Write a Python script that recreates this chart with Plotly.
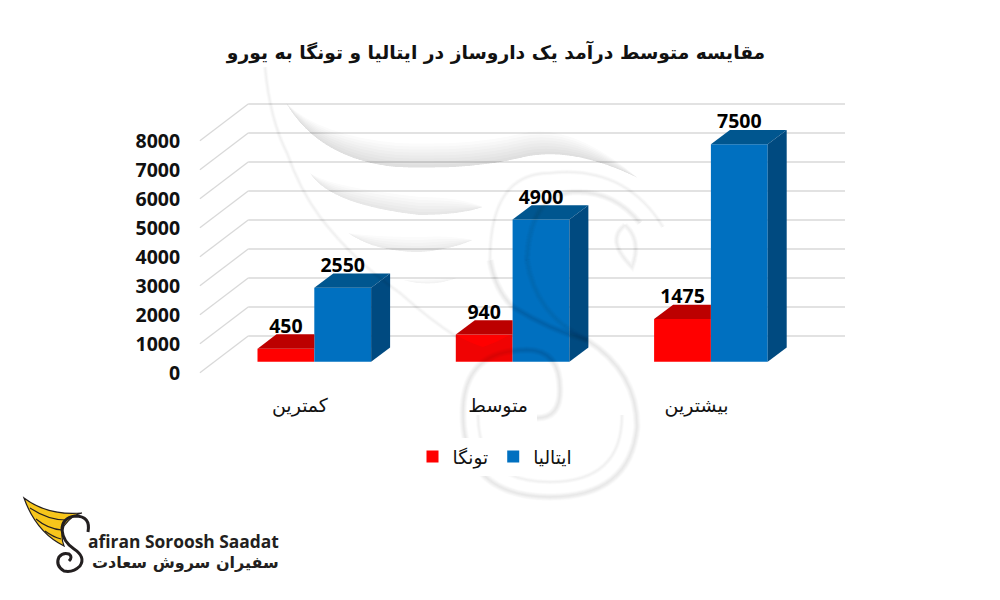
import plotly.graph_objects as go

categories = ["کمترین", "متوسط", "بیشترین"]
tonga = [450, 940, 1475]
italy = [2550, 4900, 7500]
y_ticks = [0, 1000, 2000, 3000, 4000, 5000, 6000, 7000, 8000]
title = "مقایسه متوسط درآمد یک داروساز در ایتالیا و تونگا به یورو"

# pixel scale of the fake 3d box
PX_X = 198.3
PX_Y = 0.029
X0 = 299.9
Y0 = 372.7
BAR_W = 56.8 / PX_X
BAR_SHIFT = (14.4 / PX_X, 11 / PX_Y)
BAR_DEPTH = (19 / PX_X, 14.3 / PX_Y)
WALL = (48.3 / PX_X, 36.7 / PX_Y)
GRID_END = (845 - X0) / PX_X

RED, RED_TOP = "#FF0000", "#BC0000"
BLUE, BLUE_TOP, BLUE_SIDE = "#0070C0", "#00568F", "#004A80"
GRID = "#D9D9D9"
FONT = "DejaVu Sans"
NUM_FONT = "Open Sans"


def pos(px, py):
    return px / 1000, 1 - py / 600


def path(points):
    # points are pixels, first is M, then pairs make Q segments
    x, y = pos(*points[0])
    out = f"M{x:.4f},{y:.4f}"
    rest = points[1:]
    for i in range(0, len(rest), 2):
        a = pos(*rest[i])
        b = pos(*rest[i + 1])
        out += f" Q{a[0]:.4f},{a[1]:.4f} {b[0]:.4f},{b[1]:.4f}"
    return out


fig = go.Figure()

xs = list(range(len(categories)))
for i, (name, values, colour) in enumerate([("تونگا", tonga, RED), ("ایتالیا", italy, BLUE)]):
    fig.add_bar(
        x=[v + BAR_SHIFT[0] for v in xs],
        y=values,
        base=BAR_SHIFT[1],
        name=name,
        marker=dict(color=colour, line_width=0),
    )

# top and side faces, worked out from the values
for k in xs:
    cx = k + BAR_SHIFT[0]
    for value, x0, x1, top, side in [
        (tonga[k], cx - BAR_W, cx, RED_TOP, None),
        (italy[k], cx, cx + BAR_W, BLUE_TOP, BLUE_SIDE),
    ]:
        yt = value + BAR_SHIFT[1]
        dx, dy = BAR_DEPTH
        # the red top stops where the blue bar starts
        xr = x1 + dx if side else x1
        xf = x1
        fig.add_scatter(
            x=[x0, x0 + dx, xr, xf, x0], y=[yt, yt + dy, yt + dy, yt, yt],
            fill="toself", fillcolor=top, mode="none", showlegend=False, hoverinfo="skip",
        )
        if side:
            yb = BAR_SHIFT[1]
            fig.add_scatter(
                x=[x1, x1 + dx, x1 + dx, x1, x1], y=[yb, yb + dy, yt + dy, yt, yb],
                fill="toself", fillcolor=side, mode="none", showlegend=False, hoverinfo="skip",
            )

# value labels sit above the middle of each front face
for values, off in [(tonga, -BAR_W / 2), (italy, BAR_W / 2)]:
    fig.add_scatter(
        x=[k + BAR_SHIFT[0] + off for k in xs],
        y=[v + BAR_SHIFT[1] + BAR_DEPTH[1] + 6.5 / PX_Y for v in values],
        text=[str(v) for v in values],
        mode="text",
        textposition="middle center",
        textfont=dict(family=NUM_FONT, size=19.5, color="#000000", weight=700),
        showlegend=False,
        hoverinfo="skip",
    )

shapes = []
# wall grid and floor diagonals go under the bars
for t in y_ticks:
    shapes.append(dict(type="line", xref="x", yref="y", layer="below",
                       x0=-0.5043, y0=t, x1=-0.5043 + WALL[0], y1=t + WALL[1],
                       line=dict(color=GRID, width=1.3)))
    shapes.append(dict(type="line", xref="x", yref="y", layer="below",
                       x0=-0.5043 + WALL[0], y0=t + WALL[1], x1=GRID_END, y1=t + WALL[1],
                       line=dict(color=GRID, width=1.6)))


def soft(points, width=10, alpha=0.012):
    # watermark rim: stacked wide strokes to fake the drop shadow
    for w in range(width, 0, -1):
        shapes.append(dict(type="path", xref="paper", yref="paper", layer="above",
                           path=path(points),
                           line=dict(color=f"rgba(40,40,40,{alpha})", width=w)))


def crescent(points, depth=24, alpha=0.018):
    # watermark feather: sharp lower edge, shade fading upwards, tapered at both ends
    for d in range(3, depth + 1, 3):
        back = [(x, y - d) for x, y in points[1:-1]]
        back.reverse()
        shapes.append(dict(type="path", xref="paper", yref="paper", layer="above",
                           path=path(points) + " " + path([points[-1]] + back + [points[0]]).split(" ", 1)[1].replace("M", "") + " Z",
                           fillcolor=f"rgba(40,40,40,{alpha})", line_width=0))


crescent([(286, 103), (320, 160), (397, 167), (470, 170), (520, 158), (570, 145), (638, 178)], 24)
crescent([(310, 173), (330, 205), (420, 215), (460, 215), (483, 207)], 20)
crescent([(348, 233), (375, 252), (420, 252), (450, 250), (473, 240)], 16)
crescent([(403, 280), (430, 288), (457, 278)], 10)
soft([(265, 67), (270, 120), (287, 153), (300, 190), (320, 217), (355, 262), (400, 293), (430, 320), (457, 337)], 5, 0.01)
# neck and outer ring of the swan
soft([(490, 260), (490, 173), (550, 173), (625, 165), (663, 227)], 5, 0.01)
soft([(527, 260), (530, 192), (577, 192), (615, 192), (640, 223)], 7, 0.014)
soft([(527, 260), (535, 315), (587, 340)], 7, 0.014)
soft([(490, 260), (495, 290), (513, 307), (550, 330), (587, 340), (637, 372), (637, 427),
      (630, 497), (550, 497), (463, 497), (463, 413), (463, 350), (527, 350), (560, 350), (560, 390),
      (560, 418), (537, 418)], 8, 0.012)
soft([(622, 415), (622, 482), (550, 482), (478, 482), (478, 415)], 5, 0.01)
soft([(625, 225), (605, 240), (632, 267), (642, 240), (625, 225)], 6, 0.016)
# wing tip crossing the red bar
shapes.append(dict(type="path", xref="paper", yref="paper", layer="above",
                   path=path([(456, 335), (470, 343), (483, 347), (498, 342), (513, 333), (513, 348), (513, 361),
                              (485, 361), (456, 361), (456, 348), (456, 335)]) + " Z",
                   fillcolor="rgba(40,40,40,0.07)", line_width=0))

# logo, bottom left
shapes.append(dict(type="path", xref="paper", yref="paper", layer="above",
                   path=path([(24, 498), (48, 516), (82, 513), (72, 515), (64, 526), (60, 536), (64, 546),
                              (36, 532), (24, 498)]) + " Z",
                   fillcolor="#F7C61B", line=dict(color="#231F20", width=1.2)))
for feather in ([(30, 508), (48, 520), (66, 520)], [(36, 519), (48, 529), (62, 530)], [(45, 531), (53, 537), (61, 539)]):
    shapes.append(dict(type="path", xref="paper", yref="paper", layer="above",
                       path=path(feather), line=dict(color="#231F20", width=1.2)))
shapes.append(dict(type="path", xref="paper", yref="paper", layer="above",
                   path=path([(88, 532), (91, 516), (75, 516), (62, 518), (62, 530), (63, 542), (74, 549),
                              (86, 557), (80, 566), (73, 573), (64, 571), (55, 566), (59, 557), (63, 552), (69, 554),
                              (73, 557), (69, 561)]),
                   line=dict(color="#231F20", width=3)))

fig.update_layout(
    width=1000,
    height=600,
    margin=dict(l=0, r=0, t=0, b=0),
    paper_bgcolor="white",
    plot_bgcolor="rgba(0,0,0,0)",
    barmode="group",
    bargap=1 - 2 * BAR_W,
    bargroupgap=0,
    shapes=shapes,
    title=dict(text=title, x=0.496, xanchor="center", y=1 - 52 / 600, yanchor="middle",
               font=dict(family=FONT, size=18.7, color="#111111", weight=700)),
    legend=dict(orientation="h", x=0.495, xanchor="center", y=1 - 457 / 600, yanchor="middle",
                font=dict(family=FONT, size=18.5, color="#111111")),
    xaxis=dict(
        range=[-X0 / PX_X, (1000 - X0) / PX_X],
        tickvals=xs, ticktext=categories,
        anchor="free", position=1 - Y0 / 600,
        showgrid=False, zeroline=False, showline=False,
        ticks="outside", ticklen=15, tickcolor="rgba(0,0,0,0)",
        tickfont=dict(family=FONT, size=19, color="#111111"),
    ),
    yaxis=dict(
        range=[(Y0 - 600) / PX_Y, Y0 / PX_Y],
        tickvals=y_ticks,
        anchor="free", position=0.2,
        showgrid=False, zeroline=False, showline=False,
        ticks="outside", ticklen=16, tickcolor="rgba(0,0,0,0)",
        tickfont=dict(family=NUM_FONT, size=19.5, color="#111111", weight=700),
    ),
    annotations=[
        dict(text="afiran Soroosh Saadat", xref="paper", yref="paper", x=pos(281, 0)[0], y=pos(0, 541)[1],
             xanchor="right", yanchor="middle", showarrow=False,
             font=dict(family=NUM_FONT, size=17.4, color="#231F20", weight=700)),
        dict(text="سفیران سروش سعادت", xref="paper", yref="paper", x=pos(281, 0)[0], y=pos(0, 562)[1],
             xanchor="right", yanchor="middle", showarrow=False,
             font=dict(family=FONT, size=16, color="#231F20", weight=700)),
    ],
)

# the page keeps its default 8px body margin otherwise
fig.write_html("out.html", config={"displayModeBar": False},
               post_script="document.body.style.margin='0';")
